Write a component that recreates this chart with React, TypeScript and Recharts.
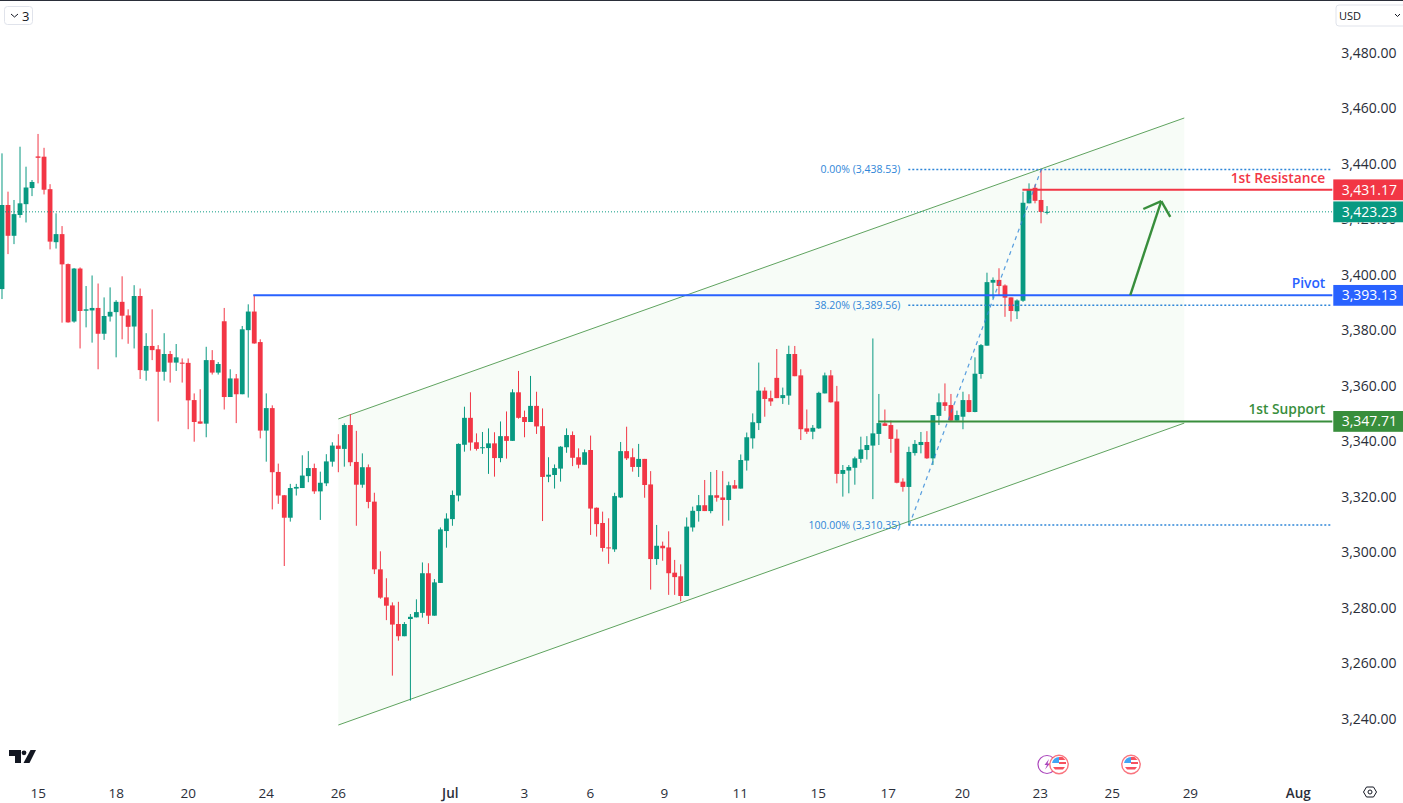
import React from 'react';
import {
  Area,
  Bar,
  ComposedChart,
  ReferenceDot,
  ReferenceLine,
  XAxis,
  YAxis,
} from 'recharts';

const opens = [
  3395.4, 3425.7, 3414.6, 3422.1, 3426, 3431.8, 3443.2, 3443.1, 3431.4, 3412.3,
  3415.2, 3404.4, 3383.7, 3402.8, 3387.6, 3387.7, 3388.6, 3379.3, 3385.5, 3387.1,
  3390.8, 3385.9, 3381.9, 3392.9, 3366, 3374.9, 3373.7, 3365.6, 3372, 3368.9,
  3368.9, 3368.8, 3355.4, 3347.7, 3346.9, 3369.8, 3365.3, 3383.8, 3356.5, 3363.2,
  3357.5, 3380.6, 3387.3, 3376.3, 3344.4, 3352.5, 3329.5, 3321.1, 3313, 3323.5,
  3323.7, 3328, 3330.9, 3322.5, 3325.4, 3333.2, 3339, 3337.8, 3346.4, 3333.1,
  3324.9, 3331.2, 3318.8, 3294.4, 3284.3, 3281.4, 3274.7, 3270.3, 3276.5, 3277.1,
  3278.7, 3293, 3277.7, 3289.5, 3308.2, 3312.5, 3321, 3339.3, 3349, 3340.2,
  3338.1, 3338.1, 3339.8, 3334.5, 3342.4, 3340.7, 3358.2, 3349.3, 3347.5, 3353.3,
  3346, 3327.8, 3328.4, 3330.7, 3338.4, 3342.8, 3334.8, 3332.1, 3337.4, 3316.6,
  3311.1, 3302.3, 3301.6, 3320.3, 3337, 3334.8, 3331.3, 3334.2, 3325, 3298.1,
  3302.9, 3302.3, 3293.2, 3291.9, 3284.8, 3309.5, 3315.4, 3317.5, 3315.4, 3321.1,
  3320.3, 3319.4, 3324.7, 3323.5, 3333.6, 3341.6, 3347.1, 3358.8, 3356.1, 3363.4,
  3356.1, 3357, 3372, 3364.3, 3345.2, 3344, 3345.2, 3357.8, 3364.3, 3354.9,
  3328.8, 3330, 3331, 3334.2, 3337.4, 3339, 3343.2, 3347, 3346.4, 3341.5,
  3326, 3324.1, 3336.3, 3339.2, 3340.3, 3334.4, 3349.7, 3354.6, 3353.6, 3348,
  3349.4, 3355.4, 3351.1, 3364.8, 3375, 3397.7, 3398.7, 3396.7, 3392.4, 3387.4,
  3391.2, 3426.3, 3431.9, 3427.5, 3423.2,
];
const closes = [
  3425.7, 3414.6, 3422.4, 3426.3, 3432, 3434, 3442.7, 3431.2, 3412.5, 3415.2,
  3404.3, 3383.4, 3402.8, 3387.5, 3388.1, 3388.6, 3379.3, 3385.7, 3387.2, 3390.8,
  3385.8, 3381.8, 3392.9, 3366.2, 3374.9, 3373.4, 3365.6, 3372, 3368.9, 3370.8,
  3368.5, 3355.3, 3347.5, 3346.9, 3369.8, 3365.3, 3368.4, 3356.5, 3363.2, 3357.5,
  3380.9, 3387.3, 3375.8, 3344.4, 3352.5, 3329.4, 3321, 3313, 3323.7, 3324.1,
  3328.2, 3330.9, 3322.5, 3325.6, 3333.3, 3339, 3337.8, 3346.4, 3333, 3324.9,
  3331.2, 3318.7, 3294.4, 3284.2, 3281.3, 3274.5, 3270.3, 3274.7, 3277.3, 3279,
  3293, 3277.7, 3289.7, 3308.8, 3312.7, 3321.2, 3339.6, 3349, 3340.1, 3337.8,
  3338.4, 3339.8, 3334.5, 3342.4, 3340.7, 3358.2, 3349, 3347.5, 3353.3, 3345.9,
  3327.7, 3328.5, 3330.9, 3338.6, 3342.8, 3334.6, 3332.1, 3336.6, 3316.3, 3310.7,
  3302.1, 3302, 3320.8, 3337, 3334.4, 3331.3, 3334.2, 3324.8, 3298.1, 3302.9,
  3302, 3293, 3291.6, 3284.8, 3309.8, 3315.5, 3317.5, 3315.4, 3321.1, 3320.2,
  3319.4, 3324.7, 3323.5, 3333.8, 3342, 3347.4, 3358.8, 3355.8, 3354.9, 3356.1,
  3357.2, 3372, 3364, 3344.9, 3344, 3345.4, 3358, 3364.3, 3354.6, 3328.8,
  3330.2, 3331.3, 3334.4, 3337.6, 3339.2, 3343.4, 3347.1, 3346.1, 3341.4, 3325.6,
  3324.1, 3336.7, 3339.6, 3340.3, 3334.4, 3350, 3354.6, 3353.3, 3348, 3350,
  3355.4, 3351.1, 3364.9, 3375.2, 3397.9, 3398.7, 3396.5, 3392.3, 3387.5, 3391.3,
  3426.5, 3431.3, 3427.2, 3423.2, 3423.23,
];
const highs = [
  3444.3, 3430.5, 3427.5, 3446.7, 3439.5, 3434.7, 3451.3, 3446.3, 3433.2, 3422.7,
  3418.1, 3404.6, 3403, 3403.2, 3396.5, 3400.3, 3397.4, 3392.4, 3396, 3391.4,
  3400, 3388.1, 3396.8, 3395.6, 3379.5, 3388.1, 3375.2, 3379.5, 3373.1, 3375.6,
  3370.4, 3370.4, 3357.8, 3359.3, 3374.6, 3373.4, 3369.1, 3388.6, 3366.5, 3364.8,
  3382.1, 3389.9, 3393.2, 3377.3, 3357.8, 3353.5, 3332.5, 3321.2, 3325.2, 3325.2,
  3335.5, 3337, 3332.5, 3329.6, 3335.9, 3340.2, 3343.1, 3347, 3350.3, 3344.3,
  3336.2, 3332.2, 3322, 3300.9, 3291.2, 3282.5, 3282.7, 3275.4, 3278.3, 3283.6,
  3296.9, 3296.6, 3290.9, 3309.5, 3314.6, 3322.8, 3339.8, 3353, 3358.2, 3343.4,
  3343.9, 3345.2, 3343.8, 3347.7, 3351.3, 3359.3, 3365.9, 3351.6, 3364.1, 3358.4,
  3352.4, 3334.8, 3332.2, 3338.8, 3345.2, 3344.1, 3338, 3337.6, 3342.6, 3316.7,
  3315.2, 3312.8, 3322, 3340.3, 3345.8, 3338, 3339.6, 3334.2, 3329.8, 3310.4,
  3304.4, 3308.1, 3297.8, 3296.2, 3313.1, 3317, 3321.2, 3326.6, 3329.5, 3330.2,
  3329.8, 3326, 3326.6, 3335.8, 3343.7, 3350.6, 3368.9, 3360, 3358.8, 3373.8,
  3359.9, 3375, 3374.9, 3366.5, 3352, 3346.4, 3358.4, 3365.3, 3366.2, 3360.5,
  3332, 3332, 3335, 3342.2, 3342.4, 3377.6, 3357.6, 3352, 3348, 3344.8,
  3327.2, 3338.6, 3341, 3343.9, 3344.2, 3350, 3357.8, 3361.4, 3357.6, 3351.6,
  3358.4, 3357.5, 3370.8, 3375.6, 3401.3, 3399.6, 3402.9, 3397.1, 3392.4, 3391.7,
  3430.5, 3433.5, 3433.1, 3438.6, 3425.3,
];
const lows = [
  3391.8, 3408, 3411.6, 3421.1, 3419.4, 3428.9, 3433.5, 3429.5, 3409.7, 3410,
  3383.3, 3383.3, 3383.3, 3374, 3381.6, 3376.1, 3366.5, 3377.1, 3383.7, 3370.8,
  3377.3, 3375.7, 3374, 3363, 3362.4, 3369.8, 3347.7, 3362.4, 3361.7, 3365.9,
  3361.7, 3344.9, 3340.4, 3346.9, 3342, 3364.6, 3364.6, 3352, 3356.5, 3347.1,
  3357.5, 3356.3, 3375.7, 3341.6, 3333.2, 3316, 3318, 3295.6, 3311.6, 3321,
  3323.7, 3325.8, 3321.6, 3312.2, 3324.4, 3331.4, 3329.4, 3331.4, 3331.6, 3310.1,
  3323.8, 3316.4, 3292.7, 3283.8, 3276.1, 3256.1, 3268.7, 3270.3, 3247.1, 3277.1,
  3277, 3274.7, 3277.7, 3289.5, 3302.2, 3310.1, 3318.9, 3336.8, 3337.2, 3337.2,
  3336, 3328.8, 3327.8, 3333, 3334.3, 3340.7, 3348.7, 3342, 3347.5, 3343.2,
  3311.8, 3325.8, 3323.5, 3326, 3336.4, 3331.6, 3330.8, 3332.1, 3306.8, 3306.2,
  3300.8, 3296.4, 3300.7, 3320.1, 3333.8, 3329.6, 3327.7, 3320.2, 3287.1, 3296,
  3297.5, 3285.2, 3285.2, 3282.9, 3284.8, 3308, 3311.6, 3315.4, 3314.6, 3318.8,
  3310.1, 3312, 3323.5, 3323.5, 3330, 3337.9, 3344.6, 3349.4, 3353.3, 3356.1,
  3354, 3353.7, 3364, 3341, 3343.2, 3341.3, 3345, 3357.8, 3354.5, 3325.4,
  3320.6, 3321.8, 3324.9, 3332.8, 3334, 3319.7, 3339.2, 3346.1, 3336.4, 3325.4,
  3322.4, 3310.4, 3335.4, 3336.2, 3334.2, 3332, 3346.4, 3351.5, 3347.7, 3348,
  3344.9, 3351, 3351, 3363.1, 3375, 3392, 3393, 3385.4, 3383.7, 3384.6,
  3390.8, 3426.3, 3426.3, 3419.1, 3422.3,
];

// bar position -> date label on the time axis
const dateTicks = [6.04, 19.03, 31.02, 44, 56, 74.64, 86.96, 97.95, 110.27, 122.93, 135.9, 147.57, 159.9, 172.88, 184.87, 197.86, 215.84];
const dateLabels = ['15', '18', '20', '24', '26', 'Jul', '3', '6', '9', '11', '15', '17', '20', '23', '25', '29', 'Aug'];
const priceTicks = [3240, 3260, 3280, 3300, 3320, 3340, 3360, 3380, 3400, 3420, 3440, 3460, 3480];

const lastPrice = 3423.23;
const resistance = 3431.17;
const pivot = 3393.13;
const support = 3347.71;
const fibLevels = [3438.53, 3389.56, 3310.35];
const fibLabels = ['0.00% (3,438.53)', '38.20% (3,389.56)', '100.00% (3,310.35)'];

// rising channel, both edges, [lower, upper]
const channelX = [56, 196.85];
const channelBands = [[3238.3, 3348.6], [3347.1, 3457.05]];

const arrowX = [187.86, 193.02, 190.03, 194.52];
const arrowY = [3393.26, 3427.1, 3424.25, 3421.4];

const GREEN = '#089981';
const RED = '#f23645';
const BLUE = '#2962ff';
const LEVEL_GREEN = '#388e3c';
const FIB_BLUE = '#2f86d8';
const FONT = '"Open Sans", sans-serif';

const LAST_ROW = 221;
const rows = Array.from({ length: LAST_ROW + 1 }, (_, i) => ({
  x: i,
  open: opens[i],
  close: closes[i],
  high: highs[i],
  low: lows[i],
}));
const channelRows = channelX.map((x, i) => ({ x, band: channelBands[i] }));

function Candle(props: any) {
  const { x, y, width, height, payload } = props;
  if (payload.open == null) return null;
  const color = payload.close >= payload.open ? GREEN : RED;
  const perUnit = height / (payload.high - payload.low);
  const top = y + (payload.high - Math.max(payload.open, payload.close)) * perUnit;
  const bodyH = Math.abs(payload.open - payload.close) * perUnit;
  const cx = x + width / 2;
  return (
    <g>
      <line x1={cx} x2={cx} y1={y} y2={y + height} stroke={color} strokeWidth={1} />
      <rect x={cx - 2.4} y={top} width={4.8} height={Math.max(bodyH, 1)} fill={color} />
    </g>
  );
}

function PriceTag({ cx, cy, value, color }: any) {
  return (
    <g>
      <rect x={cx} y={cy - 10.4} width={70} height={20.8} fill={color} />
      <text x={cx + 36} y={cy + 5} textAnchor="middle" fontFamily={FONT} fontSize={14} fill="#fff">
        {value.toLocaleString('en-US', { minimumFractionDigits: 2 })}
      </text>
    </g>
  );
}

function PriceAxisTick({ x, y, payload }: any) {
  // the 3,420 label sits under the last price tag, only its foot shows
  const hidden = payload.value === 3420;
  return (
    <g>
      {hidden && (
        <clipPath id="under-tag">
          <rect x={x} y={y + 1.6} width={80} height={12} />
        </clipPath>
      )}
      <text
        x={x + 0.9}
        y={y + 3.5}
        fontFamily={FONT}
        fontSize={14}
        fill="#2a2e39"
        clipPath={hidden ? 'url(#under-tag)' : undefined}
      >
        {payload.value.toLocaleString('en-US', { minimumFractionDigits: 2 })}
      </text>
    </g>
  );
}

function DateAxisTick({ x, y, payload }: any) {
  const label = dateLabels[dateTicks.indexOf(payload.value)];
  const bold = label === 'Jul' || label === 'Aug';
  return (
    <text
      x={x}
      y={y + 15}
      textAnchor="middle"
      fontFamily={FONT}
      fontSize={13.5}
      fontWeight={bold ? 600 : 400}
      fill="#2a2e39"
    >
      {label}
    </text>
  );
}

function levelLine(value: number, color: string, fromX: number, width: number, dash?: string) {
  return (
    <ReferenceLine
      xAxisId="num"
      ifOverflow="visible"
      segment={[{ x: fromX, y: value }, { x: 221.5, y: value }]}
      stroke={color}
      strokeWidth={width}
      strokeDasharray={dash}
    />
  );
}

function levelText(value: number, text: string, color: string) {
  return (
    <ReferenceDot
      xAxisId="num"
      x={220.33}
      y={value}
      r={0}
      ifOverflow="visible"
      shape={({ cx, cy }: any) => (
        <text x={cx} y={cy - 7} textAnchor="end" fontFamily={FONT} fontSize={13.8} fontWeight={600} fill={color}>
          {text}
        </text>
      )}
    />
  );
}

function priceTag(value: number, color: string) {
  return (
    <ReferenceDot
      xAxisId="num"
      x={221.66}
      y={value}
      r={0}
      ifOverflow="visible"
      shape={({ cx, cy }: any) => <PriceTag cx={cx} cy={cy} value={value} color={color} />}
    />
  );
}

function Flag({ cx }: { cx: number }) {
  return (
    <g>
      <circle cx={cx} cy={764.5} r={9.2} fill="#fff" stroke="#f7525f" strokeOpacity={0.8} strokeWidth={1.4} />
      <path d={`M${cx - 7} 763a7 7 0 0 1 7-6v6z`} fill="#42a5f5" />
      <path d={`M${cx} 757h3.5l3 3h-6.5zM${cx} 762h7v2h-7zM${cx - 6} 767h12l-2 2.5h-8z`} fill="#f7525f" />
    </g>
  );
}

function Overlay() {
  return (
    <svg
      width={1403}
      height={803}
      style={{ position: 'absolute', left: 0, top: 0, pointerEvents: 'none' }}
    >
      <rect x={0} y={0} width={1403} height={1} fill="#2a2e39" />
      {/* collapsed pane button */}
      <rect x={4.5} y={6.5} width={28} height={18} rx={3} fill="#fff" stroke="#e0e3eb" />
      <path d="M11 14l3.5 3 3.5-3" fill="none" stroke="#131722" />
      <text x={22} y={21} fontFamily={FONT} fontSize={13} fill="#131722">3</text>
      {/* currency */}
      <rect x={1336} y={5} width={72} height={21} rx={3} fill="#fff" stroke="#e0e3eb" />
      <text x={1339} y={19.5} fontFamily={FONT} fontSize={11} fill="#131722">USD</text>
      <path d="M1395 14l2.5 2.5 2.5-2.5" fill="none" stroke="#131722" />
      {/* logo */}
      <path d="M9 750h12v13h-6v-7h-6z" fill="#131722" />
      <circle cx={24} cy={752.8} r={2.4} fill="#131722" />
      <path d="M30.5 750h5.5l-6.5 13h-6z" fill="#131722" />
      {/* event markers */}
      <circle cx={1047} cy={764.5} r={9} fill="#fff" stroke="#ab47bc" strokeWidth={1.2} />
      <path d="M1049 759l-4.5 6h2.5l-2 4.5 5-6h-2.5z" fill="#ab47bc" />
      <Flag cx={1059} />
      <Flag cx={1131} />
      {/* settings */}
      <path d="M1363.5 792l3-5h7l3 5-3 5h-7z" fill="none" stroke="#131722" />
      <circle cx={1370} cy={792} r={2} fill="none" stroke="#131722" />
    </svg>
  );
}

export default function App() {
  return (
    <div style={{ position: 'absolute', left: 0, top: 0, width: 1403, height: 803, overflow: 'hidden', background: '#fff' }}>
      <div style={{ position: 'absolute', left: -1.3, top: 0 }}>
        <ComposedChart
          width={1404.33}
          height={803}
          data={rows}
          margin={{ top: 0, right: 0, bottom: 0, left: 0 }}
          barCategoryGap={0}
        >
          <XAxis dataKey="x" type="category" height={0} hide />
          <XAxis
            xAxisId="num"
            dataKey="x"
            type="number"
            domain={[-0.5, 221.5]}
            ticks={dateTicks}
            interval={0}
            height={28}
            allowDataOverflow
            axisLine={false}
            tickLine={false}
            tick={<DateAxisTick />}
          />
          <YAxis
            orientation="right"
            width={71}
            type="number"
            domain={[3220.29, 3499.57]}
            ticks={priceTicks}
            interval={0}
            allowDataOverflow
            axisLine={false}
            tickLine={false}
            tick={<PriceAxisTick />}
          />

          <Area
            xAxisId="num"
            data={channelRows}
            dataKey="band"
            type="linear"
            stroke="#5ea35e"
            strokeWidth={1}
            fill="#f7fcf7"
            fillOpacity={1}
            dot={false}
            activeDot={false}
            isAnimationActive={false}
          />

          {levelLine(lastPrice, GREEN, -0.5, 1, '1 2')}
          {fibLevels.map((v) => (
            <ReferenceLine
              key={v}
              xAxisId="num"
              ifOverflow="visible"
              segment={[{ x: 150.9, y: v }, { x: 221.5, y: v }]}
              stroke={FIB_BLUE}
              strokeWidth={1.5}
              strokeDasharray="2 2"
            />
          ))}
          <ReferenceLine
            xAxisId="num"
            ifOverflow="visible"
            segment={[{ x: 151.07, y: fibLevels[2] }, { x: 173.04, y: fibLevels[0] }]}
            stroke={FIB_BLUE}
            strokeOpacity={0.8}
            strokeWidth={1.2}
            strokeDasharray="4 4"
          />
          {levelLine(resistance, RED, 169.9, 2)}
          {levelLine(pivot, BLUE, 41.84, 2)}
          {levelLine(support, LEVEL_GREEN, 145.9, 2)}

          <Bar
            dataKey={(r: any) => (r.open == null ? null : [r.low, r.high])}
            shape={<Candle />}
            isAnimationActive={false}
          />

          <ReferenceLine
            xAxisId="num"
            ifOverflow="visible"
            segment={[{ x: arrowX[0], y: arrowY[0] }, { x: arrowX[1], y: arrowY[1] }]}
            stroke={LEVEL_GREEN}
            strokeWidth={2.4}
          />
          <ReferenceLine
            xAxisId="num"
            ifOverflow="visible"
            segment={[{ x: arrowX[2], y: arrowY[2] }, { x: arrowX[1], y: arrowY[1] }]}
            stroke={LEVEL_GREEN}
            strokeWidth={2.4}
          />
          <ReferenceLine
            xAxisId="num"
            ifOverflow="visible"
            segment={[{ x: arrowX[3], y: arrowY[3] }, { x: arrowX[1], y: arrowY[1] }]}
            stroke={LEVEL_GREEN}
            strokeWidth={2.4}
          />

          {fibLevels.map((v, i) => (
            <ReferenceDot
              key={v}
              xAxisId="num"
              x={149.57}
              y={v}
              r={0}
              ifOverflow="visible"
              shape={({ cx, cy }: any) => (
                <text x={cx} y={cy + 4} textAnchor="end" fontFamily={FONT} fontSize={10.5} fill={FIB_BLUE}>
                  {fibLabels[i]}
                </text>
              )}
            />
          ))}
          {levelText(resistance, '1st Resistance', RED)}
          {levelText(pivot, 'Pivot', BLUE)}
          {levelText(support, '1st Support', LEVEL_GREEN)}

          {priceTag(resistance, RED)}
          {priceTag(lastPrice, GREEN)}
          {priceTag(pivot, BLUE)}
          {priceTag(support, LEVEL_GREEN)}
        </ComposedChart>
      </div>
      <Overlay />
    </div>
  );
}
